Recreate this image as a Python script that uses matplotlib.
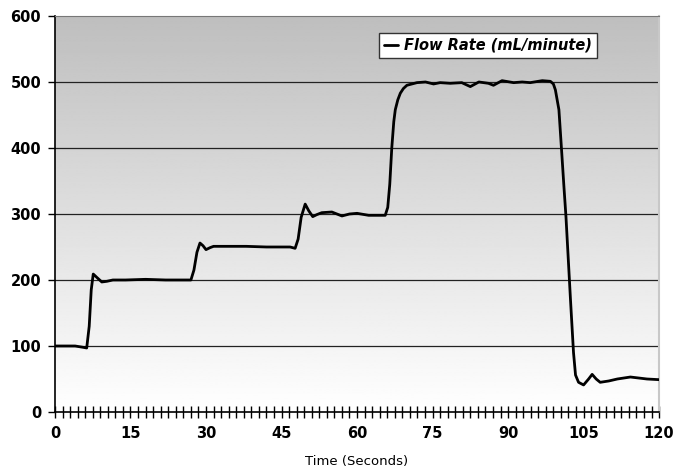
import numpy as np
import matplotlib.pyplot as plt
from matplotlib.ticker import MultipleLocator

# flow rate trace (time in s, flow in mL/minute)
time_s = [0, 2, 4, 5.6, 6.3, 6.8, 7.2, 7.6, 8.3, 9.3, 10.3, 11.5, 14, 18, 22, 25, 27.0,
          27.6, 28.2, 28.8, 29.4, 30.0, 30.8, 31.5, 34, 38, 42, 46.7, 47.7, 48.3,
          48.9, 49.7, 50.4, 51.2, 52, 53.0, 55.0, 57.0, 58.5, 60.0, 62.3, 64, 65.6,
          66.1, 66.5, 66.9, 67.3, 67.6, 68.1, 68.6, 69.2, 69.9, 71.9, 73.6, 75.2,
          76.5, 78.5, 80.8, 82.5, 84.2, 86.1, 87.1, 88.8, 91.1, 92.8, 94.4, 96.8,
          98.4, 99.0, 99.4, 100.1, 100.6, 101.1, 101.5, 102.4, 103.0, 103.4, 104.0,
          105.0, 106.0, 106.7, 107.5, 108.3, 110, 111.7, 114.3, 117.6, 120]
flow = [100, 100, 100, 98, 97, 130, 185, 209, 204, 197, 198, 200, 200, 201, 200, 200, 200,
        215, 242, 256, 252, 246, 249, 251, 251, 251, 250, 250, 248, 262,
        295, 315, 305, 296, 299, 302, 303, 297, 300, 301, 298, 298, 298,
        310, 345, 400, 440, 458, 473, 483, 490, 495, 499, 500, 497,
        499, 498, 499, 493, 500, 498, 495, 502, 499, 500, 499, 502,
        501, 497, 488, 458, 400, 341, 296, 170, 90, 56, 45,
        41, 50, 57, 50, 45, 47, 50, 53, 50, 49]

y_ticks = [0, 100, 200, 300, 400, 500, 600]
x_ticks = [0, 15, 30, 45, 60, 75, 90, 105, 120]

fig = plt.figure(figsize=(6.83, 4.70), dpi=100)
ax = fig.add_axes([0.0805, 0.1234, 0.8845, 0.8426])

# white-to-grey gradient backdrop (white at the bottom)
grad = np.linspace(1.0, 0.745, 256).reshape(-1, 1)
ax.imshow(grad, extent=[0, 120, 0, 600], origin='lower', aspect='auto',
          cmap='gray', vmin=0, vmax=1, interpolation='bilinear', zorder=0)
ax.set_xlim(0, 120)
ax.set_ylim(0, 600)

for yv in y_ticks[1:-1]:
    ax.axhline(yv, color='#222222', lw=0.9, zorder=1)

ax.plot(time_s, flow, color='black', lw=2.0, label='Flow Rate (mL/minute)',
        solid_joinstyle='round', solid_capstyle='round', zorder=3)

ax.set_xticks(x_ticks)
ax.xaxis.set_minor_locator(MultipleLocator(1.5))
ax.set_yticks(y_ticks)
ax.tick_params(axis='x', which='both', direction='inout', length=8, width=1,
               pad=6)
ax.tick_params(axis='y', which='major', direction='out', length=5, width=1,
               pad=5)

tick_font = dict(family='DejaVu Sans', weight='bold', size=10.5)
ax.set_xticklabels([str(v) for v in x_ticks], **tick_font)
ax.set_yticklabels([str(v) for v in y_ticks], **tick_font)

ax.spines['left'].set_color('black')
ax.spines['bottom'].set_color('black')
ax.spines['bottom'].set_linewidth(1.2)
ax.spines['left'].set_linewidth(1.2)
ax.spines['top'].set_color('#777777')
ax.spines['right'].set_color('#c8c8c8')
ax.spines['right'].set_linewidth(1.5)

ax.set_xlabel('Time (Seconds)', family='DejaVu Sans', size=9.5, labelpad=10)

leg = ax.legend(loc='upper left', bbox_to_anchor=(0.536, 0.958),
                frameon=True, fancybox=False, handlelength=1.0,
                handletextpad=0.4, borderpad=0.35, borderaxespad=0,
                prop=dict(family='DejaVu Sans', weight='bold',
                          style='italic', size=10.5))
leg.get_frame().set_edgecolor('#333333')
leg.get_frame().set_linewidth(1.0)
leg.get_frame().set_facecolor('white')
leg.get_frame().set_alpha(1)

fig.savefig('out.png', dpi=100)
